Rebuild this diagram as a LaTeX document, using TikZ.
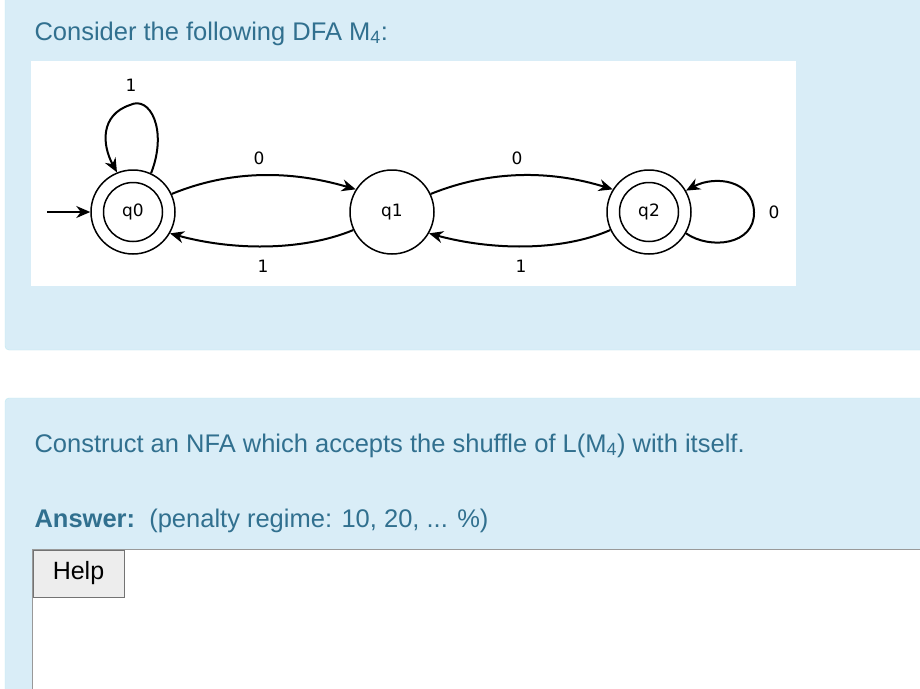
\documentclass[tikz,border=0pt]{standalone}
\usepackage{fontspec}
\setmainfont{Liberation Sans}
\newfontfamily\dv{DejaVu Sans}
\usetikzlibrary{arrows.meta}
\definecolor{pbg}{HTML}{D9EDF7}
\definecolor{pbd}{HTML}{BCE8F1}
\definecolor{ptx}{HTML}{31708F}
\tikzset{
 st/.style={circle,draw,line width=1.5pt,minimum size=84pt,inner sep=0pt,font=\dv\fontsize{17}{17}\selectfont},
 acc/.style={st},
 lab/.style={font=\dv\fontsize{17}{17}\selectfont},
 tr/.style={line width=2pt,-{Stealth[length=14pt,width=12pt]}},
 panel/.style={fill=pbg,draw=pbd,rounded corners=4pt},
 qtext/.style={anchor=base west,text=ptx,font=\fontsize{25.5}{26}\selectfont}
}
\begin{document}
\begin{tikzpicture}[x=1pt,y=-1pt]
\useasboundingbox (0,0) rectangle (920,688);
\fill[white] (0,0) rectangle (920,688);
\draw[panel] (5,-6) rectangle (930,350);
\draw[panel] (5,398) rectangle (930,700);
\node[qtext] (t1) at (31,40) {Consider the following DFA M\textsubscript{4}:};
\fill[white] (31,61) rectangle (796,286);
\node[acc] (q0) at (133,212) {q0};
\node[st] (q1) at (392,212) {q1};
\node[acc] (q2) at (649,212) {q2};
\draw[line width=1.5pt] (q0.center) circle (29.5pt) (q2.center) circle (29.5pt);
\coordinate (s) at (47,212);
\draw[tr] (s) -- (q0);
\draw[tr] (q0.65) .. controls (168,130) and (150,95) .. (130,105) .. controls (100,115) and (102,145) .. (q0.112);
\draw[tr] (q0.25) .. controls (230,170) and (290,170) .. (q1.148);
\draw[tr] (q1.205) .. controls (300,252) and (230,250) .. (q0.330);
\draw[tr] (q1.25) .. controls (490,170) and (550,170) .. (q2.148);
\draw[tr] (q2.205) .. controls (560,252) and (490,250) .. (q1.330);
\draw[tr] (q2.330) .. controls (710,250) and (755,245) .. (754,212) .. controls (753,180) and (715,175) .. (q2.30);
\node[lab] (l1) at (131,85) {1};
\node[lab] (l2) at (259,158) {0};
\node[lab] (l3) at (517,158) {0};
\node[lab] (l4) at (263,266) {1};
\node[lab] (l5) at (521,266) {1};
\node[lab] (l6) at (774,212) {0};
\node[qtext] (t2) at (31,452) {Construct an NFA which accepts the shuffle of L(M\textsubscript{4}) with itself.};
\node[qtext] (t3) at (31,527) {\textbf{Answer:}\ \ (penalty regime: 10, 20, ... \%)};
\draw[fill=white,draw=gray!80,line width=0.8pt] (32,549) rectangle (935,700);
\node[draw=gray!90!black,line width=0.8pt,fill=black!7,minimum width=91pt,minimum height=47pt,inner sep=0pt,font=\fontsize{25}{25}\selectfont] (help) at (78.5,573.5) {Help};
\end{tikzpicture}
\end{document}
